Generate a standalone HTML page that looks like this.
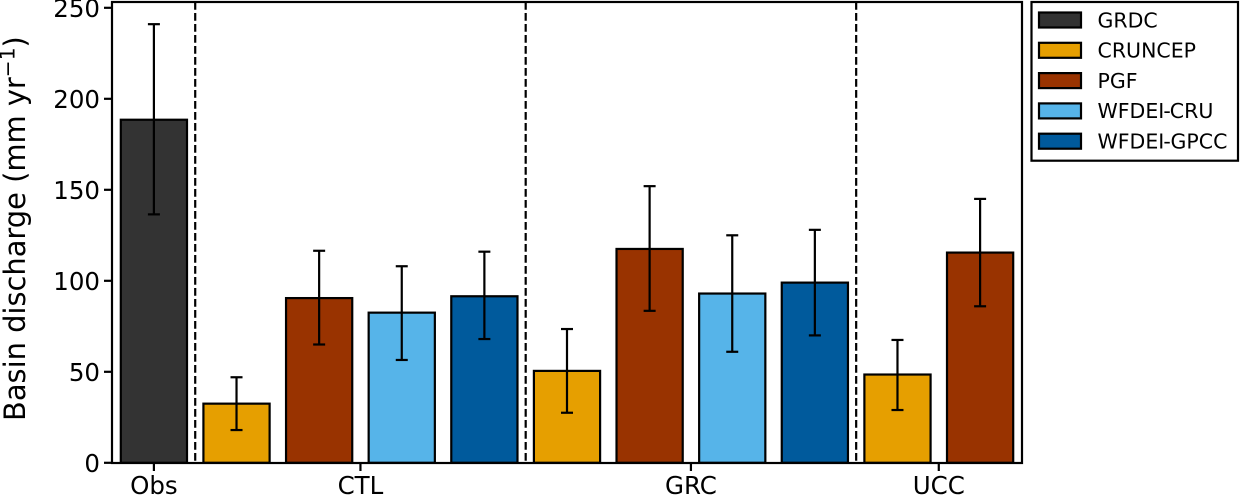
<!DOCTYPE html>
<html lang="en">
<head>
<meta charset="utf-8">
<title>Basin discharge</title>
<style>
html,body{margin:0;padding:0;background:#fff;width:1240px;height:495px;overflow:hidden}
svg{display:block}
text{font-family:"DejaVu Sans","Liberation Sans",sans-serif;fill:#000}
</style>
</head>
<body>
<svg id="chart" xmlns="http://www.w3.org/2000/svg" width="1240" height="495" viewBox="0 0 1240 495"></svg>
<script>
var barModels = ['GRDC','CRUNCEP','PGF','WFDEI-CRU','WFDEI-GPCC','CRUNCEP','PGF','WFDEI-CRU','WFDEI-GPCC','CRUNCEP','PGF'];
var barValues = [188.5,32.5,90.5,82.5,91.5,50.5,117.5,93,99,48.5,115.5];
var errLow = [136.5,18,65,56.5,68,27.5,83.5,61,70,29,86];
var errHigh = [241,47,116.5,108,116,73.5,152,125,128,67.5,145];
var yTicks = [0,50,100,150,200,250];
var groupLabels = ['Obs','CTL','GRC','UCC'];
var groupCentres = [0,2.5,6.5,9.5];
var groupDividers = [0.5,4.5,8.5];
var legendLabels = ['GRDC','CRUNCEP','PGF','WFDEI-CRU','WFDEI-GPCC'];
var legendColors = ['#333333','#E69F00','#993300','#56B4E9','#005A9C'];

var svg = document.getElementById('chart');
var NS = 'http://www.w3.org/2000/svg';
var left = 112, right = 1022, top_ = 2, bottom = 463;
function xScale(v){ return 153.9 + v * 82.62; }
function yScale(v){ return 462.8 - v * 1.82; }
function colorFor(name){ return legendColors[legendLabels.indexOf(name)]; }
function make(tag, attrs, parent){
  var el = document.createElementNS(NS, tag);
  for (var k in attrs) el.setAttribute(k, attrs[k]);
  (parent || svg).appendChild(el);
  return el;
}

var barLayer = make('g', {});


barValues.forEach(function(v, i){
  var cx = xScale(i), w = 66.2;
  var bar = make('rect', {x: cx - w / 2, y: yScale(v), width: w, height: yScale(0) - yScale(v), fill: colorFor(barModels[i]), stroke: '#000', 'stroke-width': 2.2}, barLayer);
  
  
});

barValues.forEach(function(v, i){
  var cx = xScale(i), yh = yScale(errHigh[i]), yl = yScale(errLow[i]);
  var g = make('g', {stroke: '#000', 'stroke-width': 2.2});
  
  
  make('line', {x1: cx, x2: cx, y1: yh, y2: yl}, g);
  make('line', {x1: cx - 6, x2: cx + 6, y1: yh, y2: yh}, g);
  make('line', {x1: cx - 6, x2: cx + 6, y1: yl, y2: yl}, g);
});

groupDividers.forEach(function(d, i){
  var l = make('line', {x1: xScale(d), x2: xScale(d), y1: top_, y2: bottom, stroke: '#000', 'stroke-width': 2.2, 'stroke-dasharray': '7.7 3.3'});
  
  
});

var frame = make('rect', {x: left, y: top_, width: right - left, height: bottom - top_, fill: 'none', stroke: '#000', 'stroke-width': 2.2});



yTicks.forEach(function(t){
  var y = yScale(t);
  var tick = make('line', {x1: left - 8, x2: left, y1: y, y2: y, stroke: '#000', 'stroke-width': 2.2});
  
  
  var label = make('text', {x: 100, y: y + 9, 'text-anchor': 'end', 'font-size': 24.5});
  label.textContent = t;
  
  
});

groupLabels.forEach(function(name, i){
  var x = xScale(groupCentres[i]);
  var tick = make('line', {x1: x, x2: x, y1: bottom, y2: bottom + 8, stroke: '#000', 'stroke-width': 2.2});
  
  
  var label = make('text', {x: x, y: 494, 'text-anchor': 'middle', 'font-size': 24.5});
  label.textContent = name;
  
  
});

var yTitle = make('text', {transform: 'translate(25,421) rotate(-90)', 'font-size': 28.9});


yTitle.appendChild(document.createTextNode('Basin discharge (mm yr'));
var sup = make('tspan', {dy: -10.5, 'font-size': 20.2}, yTitle);
sup.textContent = '\u22121';
var closeParen = make('tspan', {dy: 10.5}, yTitle);
closeParen.textContent = ')';

var legend = make('g', {});


var legendBox = make('rect', {x: 1031.5, y: 2, width: 206.5, height: 158.7, fill: '#fff', stroke: '#000', 'stroke-width': 2.2}, legend);


legendLabels.forEach(function(name, i){
  var rowY = 12.5 + i * 30.3;
  var swatch = make('rect', {x: 1039, y: rowY, width: 42, height: 15, fill: legendColors[i], stroke: '#000', 'stroke-width': 2.2}, legend);
  
  
  var label = make('text', {x: 1097.5, y: rowY + 14.8, 'font-size': 20.5}, legend);
  var parts = name.split('-');
  label.appendChild(document.createTextNode(parts[0]));
  if (parts.length > 1) {
    var hyphen = make('tspan', {dx: -1}, label);
    hyphen.textContent = '-';
    var rest = make('tspan', {dx: -1}, label);
    rest.textContent = parts[1];
  }
  
  
});
</script>
</body>
</html>
